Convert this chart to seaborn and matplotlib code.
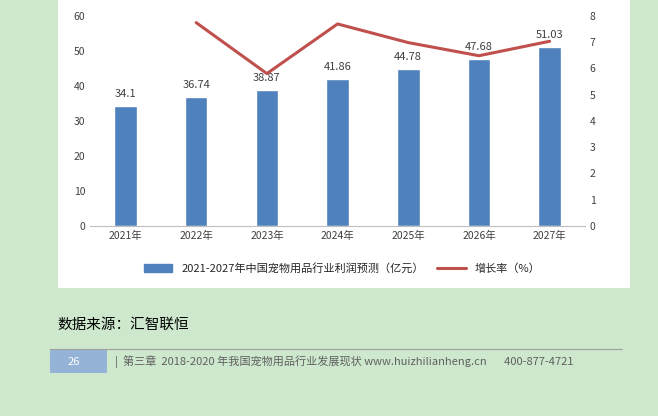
import matplotlib
matplotlib.use("Agg")
import matplotlib.pyplot as plt
import seaborn as sns
import pandas as pd
from matplotlib.patches import Rectangle, Patch
from matplotlib.lines import Line2D

years = ["2021年", "2022年", "2023年", "2024年", "2025年", "2026年", "2027年"]
profit = [34.1, 36.74, 38.87, 41.86, 44.78, 47.68, 51.03]
growth = [None, 7.74, 5.80, 7.69, 6.98, 6.48, 7.03]
bar_labels = ["34.1", "36.74", "38.87", "41.86", "44.78", "47.68", "51.03"]

sns.set_style("white")
plt.rcParams['font.family'] = ['Noto Sans CJK SC', 'DejaVu Sans']

BG = "#cde8cd"
BAR = "#4f81bd"
LINE = "#c0504d"

fig = plt.figure(figsize=(6.58, 4.16), dpi=100, facecolor=BG)
fig.patches.append(Rectangle((0.088, 0.308), 0.869, 0.692, transform=fig.transFigure,
                             facecolor="white", edgecolor="none", zorder=-10))

ax = fig.add_axes([0.137, 0.457, 0.752, 0.505])
ax.set_facecolor("none")
df = pd.DataFrame({"year": years, "profit": profit, "growth": growth})
sns.barplot(data=df, x="year", y="profit", color=BAR, width=0.32, ax=ax, saturation=1)
ax.set_ylim(0, 60)
ax.set_yticks(range(0, 61, 10))
ax.set_xlabel(""); ax.set_ylabel("")
for i, (v, t) in enumerate(zip(profit, bar_labels)):
    ax.text(i, v + 2, t, ha="center", va="bottom", fontsize=8, color="#404040")
for s in ["top", "left", "right"]:
    ax.spines[s].set_visible(False)
ax.spines["bottom"].set_color("#bfbfbf")
ax.tick_params(axis="both", labelsize=7.5, colors="#404040", length=0)

ax2 = ax.twinx()
d2 = df.dropna().copy()
d2["pos"] = [years.index(y) for y in d2["year"]]
sns.lineplot(data=d2, x="pos", y="growth", color=LINE, linewidth=2.2, ax=ax2)
ax2.set_ylim(0, 8)
ax2.set_yticks(range(0, 9))
ax2.set_xlim(-0.5, 6.5)
ax2.set_xlabel(""); ax2.set_ylabel("")
for s in ["top", "left", "right", "bottom"]:
    ax2.spines[s].set_visible(False)
ax2.tick_params(axis="y", labelsize=7.5, colors="#404040", length=0)

handles = [Patch(color=BAR), Line2D([], [], color=LINE, linewidth=2.2)]
fig.legend(handles, ["2021-2027年中国宠物用品行业利润预测（亿元）", "增长率（%）"],
           loc="center", bbox_to_anchor=(0.52, 0.355), ncol=2, frameon=False,
           fontsize=8, handlelength=2.6, columnspacing=1.2)

fig.text(0.088, 0.218, "数据来源：汇智联恒", fontsize=10.5, va="center", color="black")
fig.lines.append(Line2D([0.076, 0.945], [0.161, 0.161], transform=fig.transFigure,
                        color="#a0a0a0", linewidth=0.8))
fig.patches.append(Rectangle((0.076, 0.103), 0.087, 0.056, transform=fig.transFigure,
                             facecolor="#95b3d7", edgecolor="none"))
fig.text(0.112, 0.131, "26", fontsize=8, color="white", ha="center", va="center")
fig.text(0.175, 0.131, "|  第三章  2018-2020 年我国宠物用品行业发展现状 www.huizhilianheng.cn       400-877-4721",
         fontsize=8, color="#606060", va="center")

fig.savefig("out.png", dpi=100, facecolor=BG)
